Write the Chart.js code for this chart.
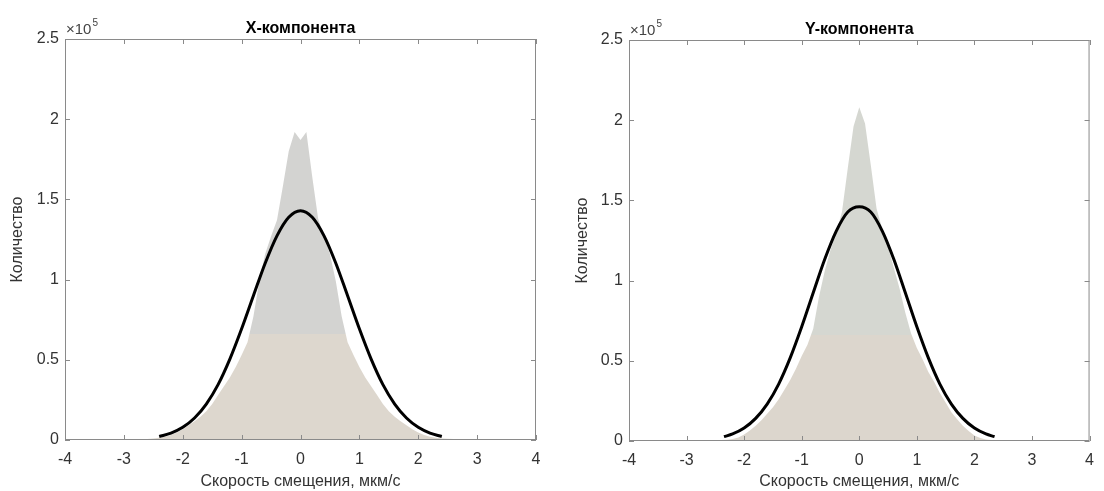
<!DOCTYPE html>
<html>
<head>
<meta charset="utf-8">
<script src="https://cdn.jsdelivr.net/npm/chart.js@4.4.1/dist/chart.umd.min.js"></script>
<style>
  html, body { margin: 0; padding: 0; background: #fff; }
  #wrap { position: relative; width: 1104px; height: 491px; }
  canvas { position: absolute; top: 0; }
</style>
</head>
<body>
<div id="wrap">
  <canvas id="cx" width="552" height="491" style="left:0"></canvas>
  <canvas id="cy" width="552" height="491" style="left:552px"></canvas>
</div>
<script>
// bin centres of the histograms, µm/s
const binX = [-3.5,-3.4,-3.3,-3.2,-3.1,-3.0,-2.9,-2.8,-2.7,-2.6,-2.5,-2.4,-2.3,-2.2,-2.1,-2.0,-1.9,-1.8,-1.7,-1.6,
  -1.5,-1.4,-1.3,-1.2,-1.1,-1.0,-0.9,-0.8,-0.7,-0.6,-0.5,-0.4,-0.3,-0.2,-0.1,0,
  0.1,0.2,0.3,0.4,0.5,0.6,0.7,0.8,0.9,1.0,1.1,1.2,1.3,1.4,1.5,1.6,1.7,1.8,1.9,2.0,
  2.1,2.2,2.3,2.4,2.5,2.6,2.7,2.8,2.9,3.0,3.1,3.2,3.3,3.4,3.5];

// counts, in units of 10^5
const histX = [0.001,0.001,0.001,0.002,0.002,0.002,0.003,0.004,0.005,0.007,0.010,0.014,0.021,0.031,0.046,0.067,0.092,0.117,0.145,0.18,
  0.225,0.28,0.335,0.39,0.455,0.53,0.61,0.77,0.99,1.16,1.27,1.37,1.58,1.80,1.92,1.87,
  1.92,1.64,1.38,1.27,1.16,0.99,0.77,0.61,0.53,0.455,0.39,0.335,0.28,0.225,0.18,0.145,0.117,0.092,0.067,0.046,
  0.031,0.021,0.014,0.010,0.008,0.006,0.005,0.004,0.003,0.002,0.002,0.002,0.001,0.001,0.001];

const histY = [0.001,0.001,0.001,0.001,0.002,0.002,0.002,0.003,0.003,0.004,0.005,0.006,0.008,0.012,0.022,0.04,0.065,0.095,0.13,0.17,
  0.21,0.26,0.32,0.38,0.45,0.53,0.60,0.70,0.90,1.06,1.19,1.30,1.43,1.70,1.96,2.08,
  1.98,1.72,1.45,1.32,1.21,1.08,0.95,0.80,0.67,0.58,0.51,0.43,0.37,0.30,0.24,0.18,0.135,0.095,0.062,0.035,
  0.018,0.010,0.007,0.005,0.004,0.004,0.003,0.003,0.002,0.002,0.002,0.001,0.001,0.001,0.001];

// fitted normal curves
const fitXpos = [-2.4,-2.2,-2.0,-1.8,-1.6,-1.4,-1.2,-1.0,-0.8,-0.6,-0.4,-0.2,0,0.2,0.4,0.6,0.8,1.0,1.2,1.4,1.6,1.8,2.0,2.2,2.4];
const fitX = [0.022,0.043,0.079,0.137,0.224,0.345,0.504,0.693,0.899,1.102,1.273,1.389,1.43,1.389,1.273,1.102,0.899,0.693,0.504,0.345,0.224,0.137,0.079,0.043,0.022];
const fitYpos = [-2.35,-2.2,-2.0,-1.8,-1.6,-1.4,-1.2,-1.0,-0.8,-0.6,-0.4,-0.2,0,0.2,0.4,0.6,0.8,1.0,1.2,1.4,1.6,1.8,2.0,2.2,2.35];
const fitY = [0.027,0.044,0.081,0.141,0.230,0.355,0.518,0.712,0.924,1.133,1.309,1.428,1.46,1.428,1.309,1.133,0.924,0.712,0.518,0.355,0.230,0.141,0.081,0.044,0.027];

const xTicks = [-4,-3,-2,-1,0,1,2,3,4];
const yTicks = [0,0.5,1,1.5,2,2.5];

const FONT = '"Liberation Sans", Arial, sans-serif';

const pairs = (xs, ys) => xs.map((x, i) => ({x: x, y: ys[i]}));

// grey above the colour break, beige below (as in the picture)
function histFill(top, bottom, split) {
  return function(ctx) {
    const chart = ctx.chart;
    const a = chart.chartArea;
    if (!a) return bottom;
    const yb = chart.scales.y.getPixelForValue(split);
    const f = Math.min(1, Math.max(0, (yb - a.top) / (a.bottom - a.top)));
    const g = chart.ctx.createLinearGradient(0, a.top, 0, a.bottom);
    g.addColorStop(0, top);
    g.addColorStop(f, top);
    g.addColorStop(f, bottom);
    g.addColorStop(1, bottom);
    return g;
  };
}

const frame = {
  id: 'frame',
  afterDraw(chart, args, opts) {
    const {ctx, chartArea: a, scales: {x, y}} = chart;
    ctx.save();
    ctx.strokeStyle = '#8a8a8a';
    ctx.lineWidth = 1;
    ctx.strokeRect(a.left + 0.5, a.top + 0.5, a.right - a.left - 1, a.bottom - a.top - 1);
    ctx.beginPath();
    x.ticks.forEach(t => {
      const px = Math.round(x.getPixelForValue(t.value)) + 0.5;
      ctx.moveTo(px, a.bottom); ctx.lineTo(px, a.bottom - 5);
      ctx.moveTo(px, a.top); ctx.lineTo(px, a.top + 5);
    });
    y.ticks.forEach(t => {
      const py = Math.round(y.getPixelForValue(t.value)) + 0.5;
      ctx.moveTo(a.left, py); ctx.lineTo(a.left + 5, py);
      ctx.moveTo(a.right, py); ctx.lineTo(a.right - 5, py);
    });
    ctx.stroke();

    ctx.fillStyle = '#000';
    ctx.font = 'bold 16px ' + FONT;
    ctx.textAlign = 'center';
    ctx.textBaseline = 'middle';
    ctx.fillText(opts.title, (a.left + a.right) / 2, a.top - 10);

    ctx.fillStyle = '#444';
    ctx.textAlign = 'left';
    ctx.font = '15px ' + FONT;
    ctx.fillText('\u00d710', a.left + 1, a.top - 9);
    const w = ctx.measureText('\u00d710').width;
    ctx.font = '10px ' + FONT;
    ctx.fillText('5', a.left + 1 + w + 1, a.top - 16);
    ctx.restore();
  }
};

function makeChart(id, o) {
  return new Chart(document.getElementById(id), {
    type: 'line',
    data: {
      datasets: [
        {
          data: pairs(o.fitPos, o.fit),
          borderColor: '#000',
          borderWidth: 3,
          pointRadius: 0,
          fill: false,
          cubicInterpolationMode: 'monotone',
          order: 0
        },
        {
          data: pairs(binX, o.hist),
          borderColor: 'transparent',
          borderWidth: 0,
          pointRadius: 0,
          tension: 0,
          fill: 'origin',
          backgroundColor: histFill(o.grey, o.beige, 0.66),
          order: 1
        }
      ]
    },
    options: {
      responsive: false,
      animation: false,
      events: [],
      layout: { padding: { top: o.top, right: o.right, left: 0, bottom: 0 } },
      plugins: { legend: { display: false }, tooltip: { enabled: false }, frame: { title: o.title } },
      scales: {
        x: {
          type: 'linear', min: -4, max: 4,
          afterBuildTicks: s => { s.ticks = xTicks.map(v => ({value: v})); },
          afterFit: s => { s.height = o.xh; },
          grid: { display: true, drawOnChartArea: false, drawTicks: false },
          border: { display: false },
          ticks: { color: '#333', font: { family: FONT, size: 16 }, padding: 10, maxRotation: 0, callback: v => String(v) },
          title: { display: true, text: 'Скорость смещения, мкм/с', color: '#333', font: { family: FONT, size: 16 }, padding: { top: 0, bottom: 0 } }
        },
        y: {
          type: 'linear', min: 0, max: 2.5,
          afterBuildTicks: s => { s.ticks = yTicks.map(v => ({value: v})); },
          afterFit: s => { s.width = o.yw; },
          grid: { display: true, drawOnChartArea: false, drawTicks: false },
          border: { display: false },
          ticks: { color: '#333', font: { family: FONT, size: 16 }, padding: 6, callback: v => String(v) },
          title: { display: true, text: 'Количество', color: '#333', font: { family: FONT, size: 16 }, padding: { top: o.ytp, bottom: 0 } }
        }
      }
    },
    plugins: [frame]
  });
}

makeChart('cx', { title: 'X-компонента', hist: histX, fit: fitX, fitPos: fitXpos,
  grey: '#d3d3d1', beige: '#ddd7ce', top: 39, right: 16, xh: 51, yw: 65, ytp: 8 });
makeChart('cy', { title: 'Y-компонента', hist: histY, fit: fitY, fitPos: fitYpos,
  grey: '#d5d7d1', beige: '#dcd6cd', top: 40, right: 6, xh: 50, yw: 77, ytp: 21 });
</script>
</body>
</html>
